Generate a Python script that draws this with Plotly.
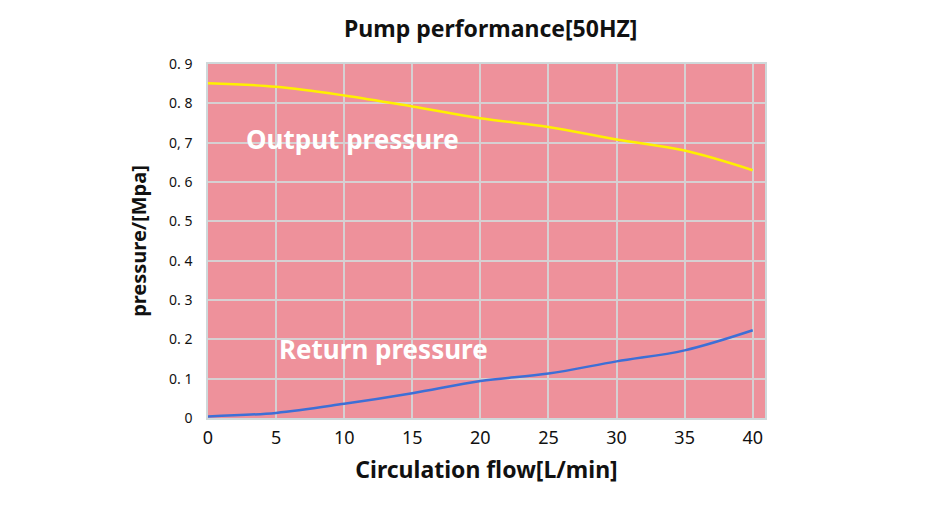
import plotly.graph_objects as go

flow = [0, 5, 10, 15, 20, 25, 30, 35, 40]
output_pressure = [0.851, 0.842, 0.820, 0.792, 0.762, 0.740, 0.708, 0.680, 0.630]
return_pressure = [0.004, 0.013, 0.036, 0.063, 0.094, 0.113, 0.144, 0.172, 0.223]

y_tickvals = [0, 0.1, 0.2, 0.3, 0.4, 0.5, 0.6, 0.7, 0.8, 0.9]
y_ticktext = ["0", "0. 1", "0. 2", "0. 3", "0. 4", "0. 5", "0. 6", "0, 7", "0. 8", "0. 9"]
x_tickvals = [0, 5, 10, 15, 20, 25, 30, 35, 40]

FONT = "Noto Sans"

fig = go.Figure()
fig.add_trace(go.Scatter(x=flow, y=output_pressure, mode="lines",
                         line=dict(color="#FFF000", width=2.5, shape="spline"),
                         name="Output pressure", showlegend=False))
fig.add_trace(go.Scatter(x=flow, y=return_pressure, mode="lines",
                         line=dict(color="#3D6FD6", width=2.5, shape="spline"),
                         name="Return pressure", showlegend=False))

fig.add_annotation(x=10.6, y=0.71, text="<b>Output pressure</b>", showarrow=False,
                   font=dict(family=FONT, size=26, color="white"))
fig.add_annotation(x=12.9, y=0.175, text="<b>Return pressure</b>", showarrow=False,
                   font=dict(family=FONT, size=26, color="white"))

fig.update_layout(
    width=951, height=519,
    margin=dict(l=208, r=186, t=64, b=101),
    paper_bgcolor="white",
    plot_bgcolor="#EE919B",
    title=dict(text="<b>Pump performance[50HZ]</b>", x=0.516, xanchor="center",
               y=0.945, yanchor="middle",
               font=dict(family=FONT, size=23, color="#111")),
    font=dict(family=FONT, color="#111"),
)
fig.update_xaxes(range=[0, 40.9], tickvals=x_tickvals, showgrid=True,
                 gridcolor="#D6D0D2", gridwidth=1.5, zeroline=False,
                 showline=True, linecolor="#CFD8DA", linewidth=1.5, mirror=True,
                 tickfont=dict(family=FONT, size=18, color="#111"),
                 ticks="outside", ticklen=3, tickcolor="rgba(0,0,0,0)",
                 title=dict(text="<b>Circulation flow[L/min]</b>",
                            font=dict(family=FONT, size=23, color="#111"), standoff=14))
fig.update_yaxes(range=[0, 0.9], tickvals=y_tickvals, ticktext=y_ticktext, showgrid=True,
                 gridcolor="#D6D0D2", gridwidth=1.5, zeroline=False,
                 showline=True, linecolor="#CFD8DA", linewidth=1.5, mirror=True,
                 tickfont=dict(family=FONT, size=14, color="#111"),
                 ticks="outside", ticklen=11, tickcolor="rgba(0,0,0,0)",
                 title=dict(text="<b>pressure/[Mpa]</b>",
                            font=dict(family=FONT, size=20, color="#111"), standoff=17))

fig.write_html("out.html")
